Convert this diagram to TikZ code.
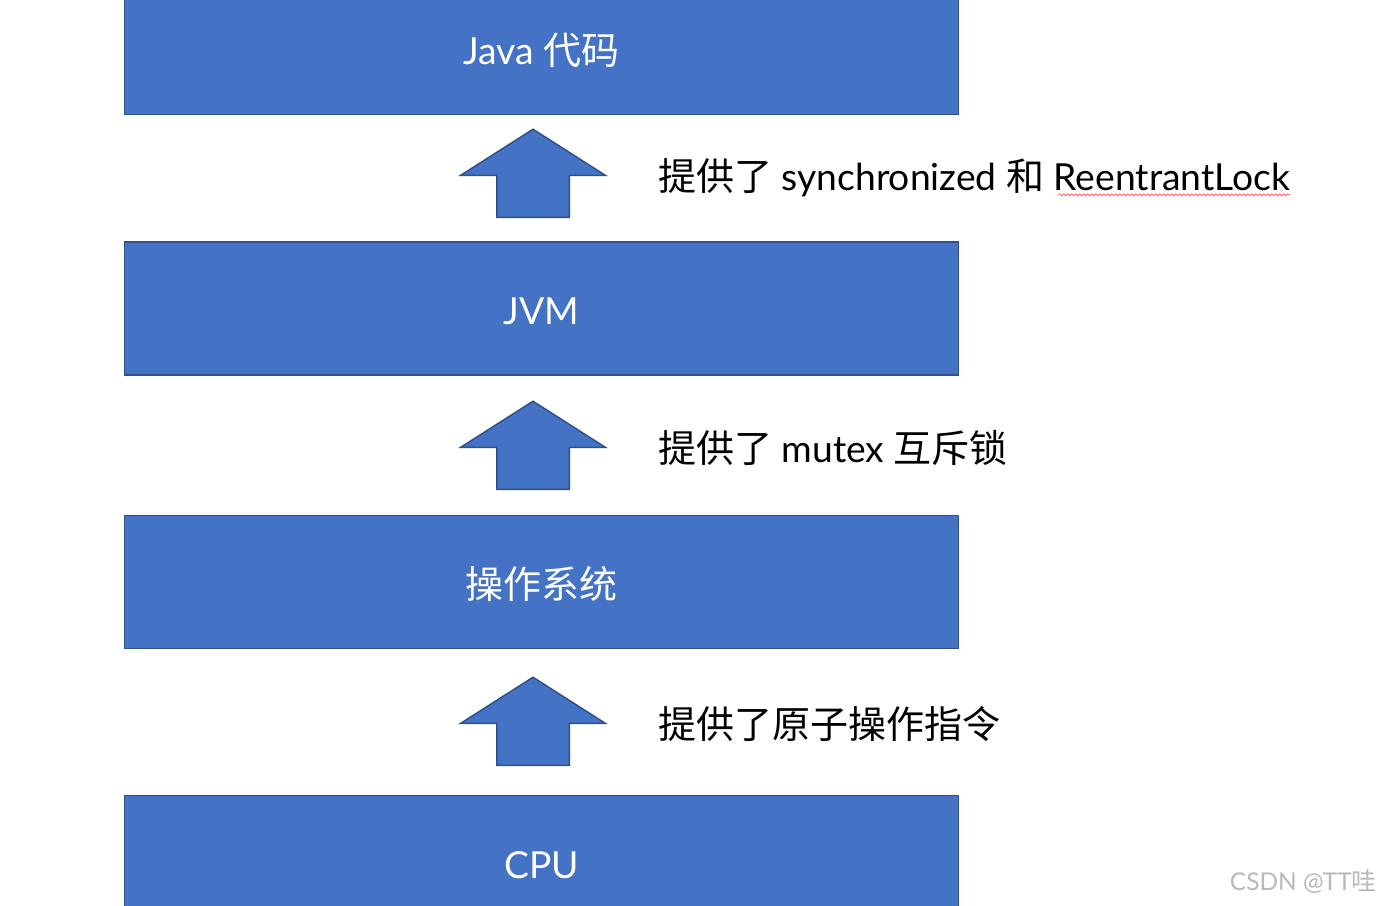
\documentclass[tikz,border=0pt]{standalone}
\usepackage{fontspec}
\setmainfont{Lato}[Scale=0.98]
\newfontfamily\cjk{Noto Sans CJK SC}
\usetikzlibrary{shapes.arrows,decorations.pathmorphing}
\definecolor{layerblue}{HTML}{4472C4}
\definecolor{layeredge}{HTML}{2F528F}

\begin{document}
\begin{tikzpicture}[
    x=1pt, y=-1pt,
    layer/.style={draw=layeredge, fill=layerblue, line width=1.5pt, minimum width=834pt, minimum height=133pt, inner sep=0pt, text=white, font=\fontsize{38}{40}\selectfont, text height=32pt, text depth=0pt},
    uparrow/.style={single arrow, draw=layeredge, fill=layerblue, line width=1.5pt, rotate=90, anchor=tail,
        minimum height=88pt, minimum width=143pt, inner xsep=0pt, inner ysep=35.5pt,
        single arrow head extend=36pt, single arrow head indent=0pt, single arrow tip angle=115},
    note/.style={anchor=west, inner sep=0pt, font=\fontsize{38}{40}\selectfont, text height=29pt, text depth=2pt},
    spell/.style={red!75, line width=0.6pt, decorate, decoration={snake, amplitude=0.9pt, segment length=4pt}}
]
\useasboundingbox (0,0) rectangle (1381,905);
\clip (0,0) rectangle (1381,905);
\fill[white] (0,0) rectangle (1381,905);

% layers
\node[layer] (java) at (541.5,48) {Java {\cjk 代码}};
\node[layer] (jvm) at (541.5,308.5) {JVM};
\node[layer] (os) at (541.5,582) {\cjk 操作系统};
\node[layer] (cpu) at (541.5,862) {CPU};

% arrows between layers
\node[uparrow] (up1) at (533,218) {};
\node[uparrow] (up2) at (533,490) {};
\node[uparrow] (up3) at (533,766) {};

% what each layer offers
\node[note] (offer1) at (658,177) {{\cjk 提供了} synchronized {\cjk 和} ReentrantLock};
\node[note] (offer2) at (658,449) {{\cjk 提供了} mutex {\cjk 互斥锁}};
\node[note] (offer3) at (658,725) {\cjk 提供了原子操作指令};

\path (offer1.south east) ++(0,2) coordinate (wave2) ++(-232,0) coordinate (wave1);
\draw[spell] (wave1) -- (wave2);

\node[text=gray!55, font=\fontsize{25}{27}\selectfont, anchor=east, inner sep=0pt] (mark) at (1377,882) {CSDN @TT{\cjk 哇}};
\end{tikzpicture}
\end{document}
